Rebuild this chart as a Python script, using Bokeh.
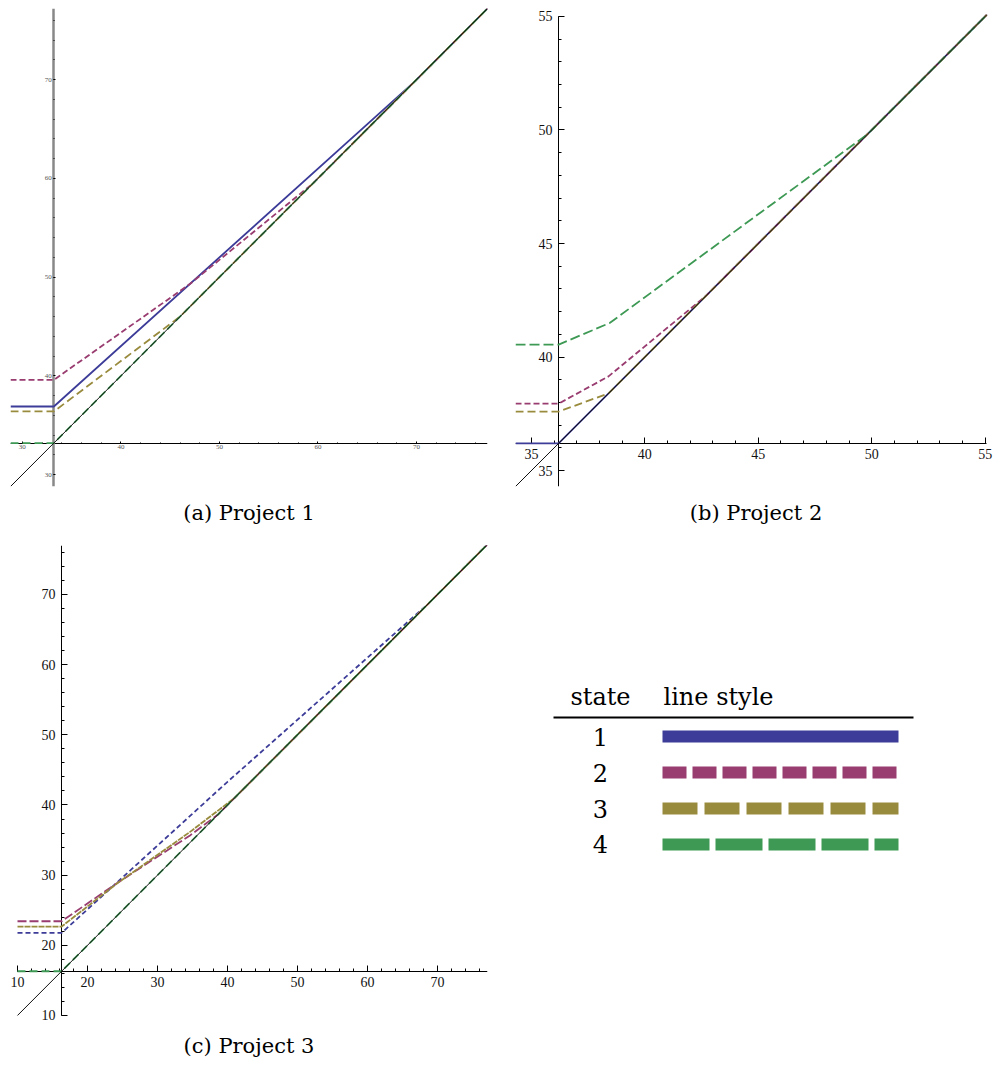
from bokeh.plotting import figure
from bokeh.models import Range1d, SingleIntervalTicker, Title
from bokeh.layouts import row, column
from bokeh.embed import file_html
from bokeh.resources import INLINE
from bokeh.core.properties import value

# ---------------- data ----------------
COLORS = ["#3D3D99", "#993D71", "#998B3D", "#3D9954"]
states = [1, 2, 3, 4]
state_labels = ["1", "2", "3", "4"]

# Project 1
a_ident = [28.8, 77.2]
a_origin = 33.2
a_x1 = [28.8, 33.2, 69.8, 77.2]
a_y1 = [36.9, 36.9, 69.8, 77.2]
a_x2 = [28.8, 33.2, 47.0, 59.5, 77.2]
a_y2 = [39.6, 39.6, 49.3, 59.5, 77.2]
a_x3 = [28.8, 33.2, 46.0, 77.2]
a_y3 = [36.4, 36.4, 46.0, 77.2]
a_x4 = [28.8, 33.2, 77.2]
a_y4 = [33.2, 33.2, 77.2]

# Project 2
b_ident = [34.3, 55.07]
b_origin = 36.2
b_x1 = [34.3, 36.2, 55.07]
b_y1 = [36.2, 36.2, 55.07]
b_x2 = [34.3, 36.2, 38.4, 42.7, 55.07]
b_y2 = [37.95, 37.95, 39.15, 42.7, 55.07]
b_x3 = [34.3, 36.2, 38.4, 55.07]
b_y3 = [37.6, 37.6, 38.4, 55.07]
b_x4 = [34.3, 36.2, 38.45, 49.8, 55.07]
b_y4 = [40.55, 40.55, 41.5, 49.8, 55.07]

# Project 3
c_ident = [10.0, 77.1]
c_origin = 16.3
c_x1 = [10.0, 16.3, 40.0, 68.7, 77.1]
c_y1 = [21.76, 21.76, 43.3, 68.7, 77.1]
c_x2 = [10.0, 16.3, 24.2, 34.7, 38.6, 77.1]
c_y2 = [23.43, 23.43, 28.85, 35.7, 38.6, 77.1]
c_x3 = [10.0, 16.3, 24.2, 34.7, 41.0, 77.1]
c_y3 = [22.67, 22.67, 28.8, 36.2, 41.0, 77.1]
c_x4 = [10.0, 16.3, 77.1]
c_y4 = [16.3, 16.3, 77.1]

SERIF = "Liberation Serif"
CAP_FONT = "DejaVu Serif"


def panel(xview, yview, xbounds, ybounds, ident, origin, series, dashes,
          caption, interval, border, frame_w, frame_h, label_size,
          label_color, y_axis_color, y_axis_width, tick_in, minor_in,
          standoff, cap_standoff):
    left, right, top, bottom = border
    p = figure(width=left + frame_w + right, height=top + frame_h + bottom,
               x_range=Range1d(*xview), y_range=Range1d(*yview),
               output_backend="svg", toolbar_location=None,
               min_border_left=left, min_border_right=right,
               min_border_top=top, min_border_bottom=bottom)
    p.grid.visible = False
    p.outline_line_color = None
    for ax in (p.xaxis[0], p.yaxis[0]):
        ax.fixed_location = origin
        ax.ticker = SingleIntervalTicker(interval=interval, num_minor_ticks=5)
        ax.major_tick_in = tick_in
        ax.major_tick_out = 0
        ax.minor_tick_in = minor_in
        ax.minor_tick_out = 0
        ax.major_label_text_font = SERIF
        ax.major_label_text_font_size = label_size
        ax.major_label_text_color = label_color
        ax.major_label_standoff = standoff
        ax.level = "underlay"
        ax.axis_line_color = "black"
        ax.major_tick_line_color = "black"
        ax.minor_tick_line_color = "black"
    if xbounds is not None:
        p.xaxis[0].bounds = xbounds
    if ybounds is not None:
        p.yaxis[0].bounds = ybounds
    p.yaxis[0].axis_line_color = y_axis_color
    p.yaxis[0].axis_line_width = y_axis_width
    for (xs, ys), col, dash in zip(series, COLORS, dashes):
        p.line(xs, ys, line_color=col, line_width=1.8, line_dash=dash)
    p.line(ident, ident, line_color="#111111", line_width=1)
    p.add_layout(Title(text=caption, align="center", text_font=CAP_FONT,
                       text_font_size="21px", text_font_style="normal",
                       text_color="black", standoff=cap_standoff), "below")
    return p


pa = panel((28.8, 77.2), (28.8, 77.2), None, None, a_ident, a_origin,
           [(a_x1, a_y1), (a_x2, a_y2), (a_x3, a_y3), (a_x4, a_y4)],
           ["solid", "6 3", "8 4", "8 4"], "(a) Project 1", 10,
           (10, 11, 8, 51), 477, 478, "7px", "#555555", "#888888", 2.5,
           2, 1, 2, 25)
pb = panel((34.3, 55.5), (34.3, 55.35), (34.3, 55.07), (34.3, 55.0),
           b_ident, b_origin,
           [(b_x1, b_y1), (b_x2, b_y2), (b_x3, b_y3), (b_x4, b_y4)],
           ["solid", "6 3", "8 4", "10 4"], "(b) Project 2", 5,
           (17, 0, 8, 51), 481, 478, "14px", "#111111", "black", 1,
           6, 3, 6, 25)
pc = panel((9.0, 77.14), (9.14, 76.98), (10.0, 77.14), (10.0, 76.98),
           c_ident, c_origin,
           [(c_x1, c_y1), (c_x2, c_y2), (c_x3, c_y3), (c_x4, c_y4)],
           ["5 3", "9 3", "6 1", "8 4"], "(c) Project 3", 10,
           (10, 11, 8, 47), 477, 476, "14px", "#111111", "black", 1,
           6, 3, 6, 21)

# ---------------- legend table ----------------
leg_dashes = ["solid", "24 6", "35 7", "47 6"]
pl = figure(width=498, height=531, x_range=Range1d(0, 498),
            y_range=Range1d(8.917, -4.306), output_backend="svg",
            toolbar_location=None, x_axis_location=None, y_axis_location=None,
            min_border_left=0, min_border_right=0, min_border_top=8,
            min_border_bottom=47)
pl.grid.visible = False
pl.outline_line_color = None
pl.text(x=[102, 165], y=[-0.1, -0.1], text=["state", "line style"],
        text_align=["center", "left"], text_baseline="middle",
        text_font=value("DejaVu Serif"), text_font_size="24px", text_color="black")
pl.line([55, 415], [0.47, 0.47], line_color="black", line_width=2)
pl.text(x=[102] * 4, y=states, text=state_labels, text_align="center",
        text_baseline="middle", text_font=value("DejaVu Serif"),
        text_font_size="24px", text_color="black")
for s, col, dash in zip(states, COLORS, leg_dashes):
    pl.line([164, 400], [s, s], line_color=col, line_width=12,
            line_dash=dash, line_cap="butt")

layout = column(row(pa, pb), row(pc, pl))
open("out.html", "w").write(file_html(layout, INLINE))
